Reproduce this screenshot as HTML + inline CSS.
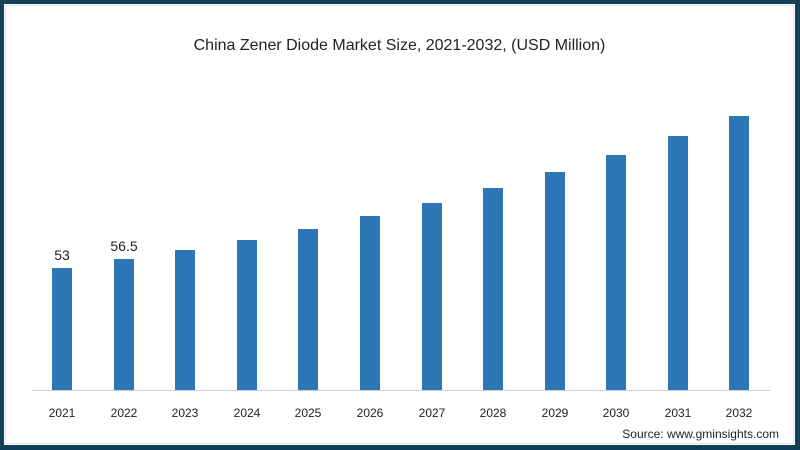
<!DOCTYPE html>
<html><head><meta charset="utf-8"><style>
html,body{margin:0;padding:0;background:#fff}
.wrap{position:relative;width:800px;height:450px;box-sizing:border-box;border:4px solid #123f5a;border-bottom-width:5px;border-right-width:5px;overflow:hidden;font-family:"Liberation Sans",sans-serif}
.in{position:absolute;left:1px;top:1px;right:1px;bottom:1px;border:1px solid #d6e4ee}
.t{position:absolute;left:0;width:100%;top:33px;text-align:center;font-size:16px;color:#222}
.b{position:absolute;width:20px;background:#2e75b6}
.x{position:absolute;top:402px;width:60px;text-align:center;font-size:12px;color:#222}
.v{position:absolute;width:60px;text-align:center;font-size:14px;color:#222}
.ax{position:absolute;left:28px;top:386px;width:738px;height:1px;background:#d0d0d0}
.s{position:absolute;right:16px;top:423px;font-size:12px;color:#222}
</style></head><body><div class="wrap"><div class="in"></div>
<div class="t">China Zener Diode Market Size, 2021-2032, (USD Million)</div>
<div class="ax"></div>
<div class="b" style="left:48px;top:264px;height:122px"></div>
<div class="b" style="left:110px;top:255px;height:131px"></div>
<div class="b" style="left:171px;top:246px;height:140px"></div>
<div class="b" style="left:233px;top:236px;height:150px"></div>
<div class="b" style="left:294px;top:225px;height:161px"></div>
<div class="b" style="left:356px;top:212px;height:174px"></div>
<div class="b" style="left:418px;top:199px;height:187px"></div>
<div class="b" style="left:479px;top:184px;height:202px"></div>
<div class="b" style="left:541px;top:168px;height:218px"></div>
<div class="b" style="left:602px;top:151px;height:235px"></div>
<div class="b" style="left:664px;top:132px;height:254px"></div>
<div class="b" style="left:725px;top:112px;height:274px"></div>
<div class="v" style="left:28px;top:243px">53</div>
<div class="v" style="left:90px;top:234px">56.5</div>
<div class="x" style="left:28px">2021</div><div class="x" style="left:90px">2022</div><div class="x" style="left:151px">2023</div><div class="x" style="left:213px">2024</div><div class="x" style="left:274px">2025</div><div class="x" style="left:336px">2026</div><div class="x" style="left:398px">2027</div><div class="x" style="left:459px">2028</div><div class="x" style="left:521px">2029</div><div class="x" style="left:582px">2030</div><div class="x" style="left:644px">2031</div><div class="x" style="left:705px">2032</div>
<div class="s">Source: www.gminsights.com</div>
</div></body></html>
